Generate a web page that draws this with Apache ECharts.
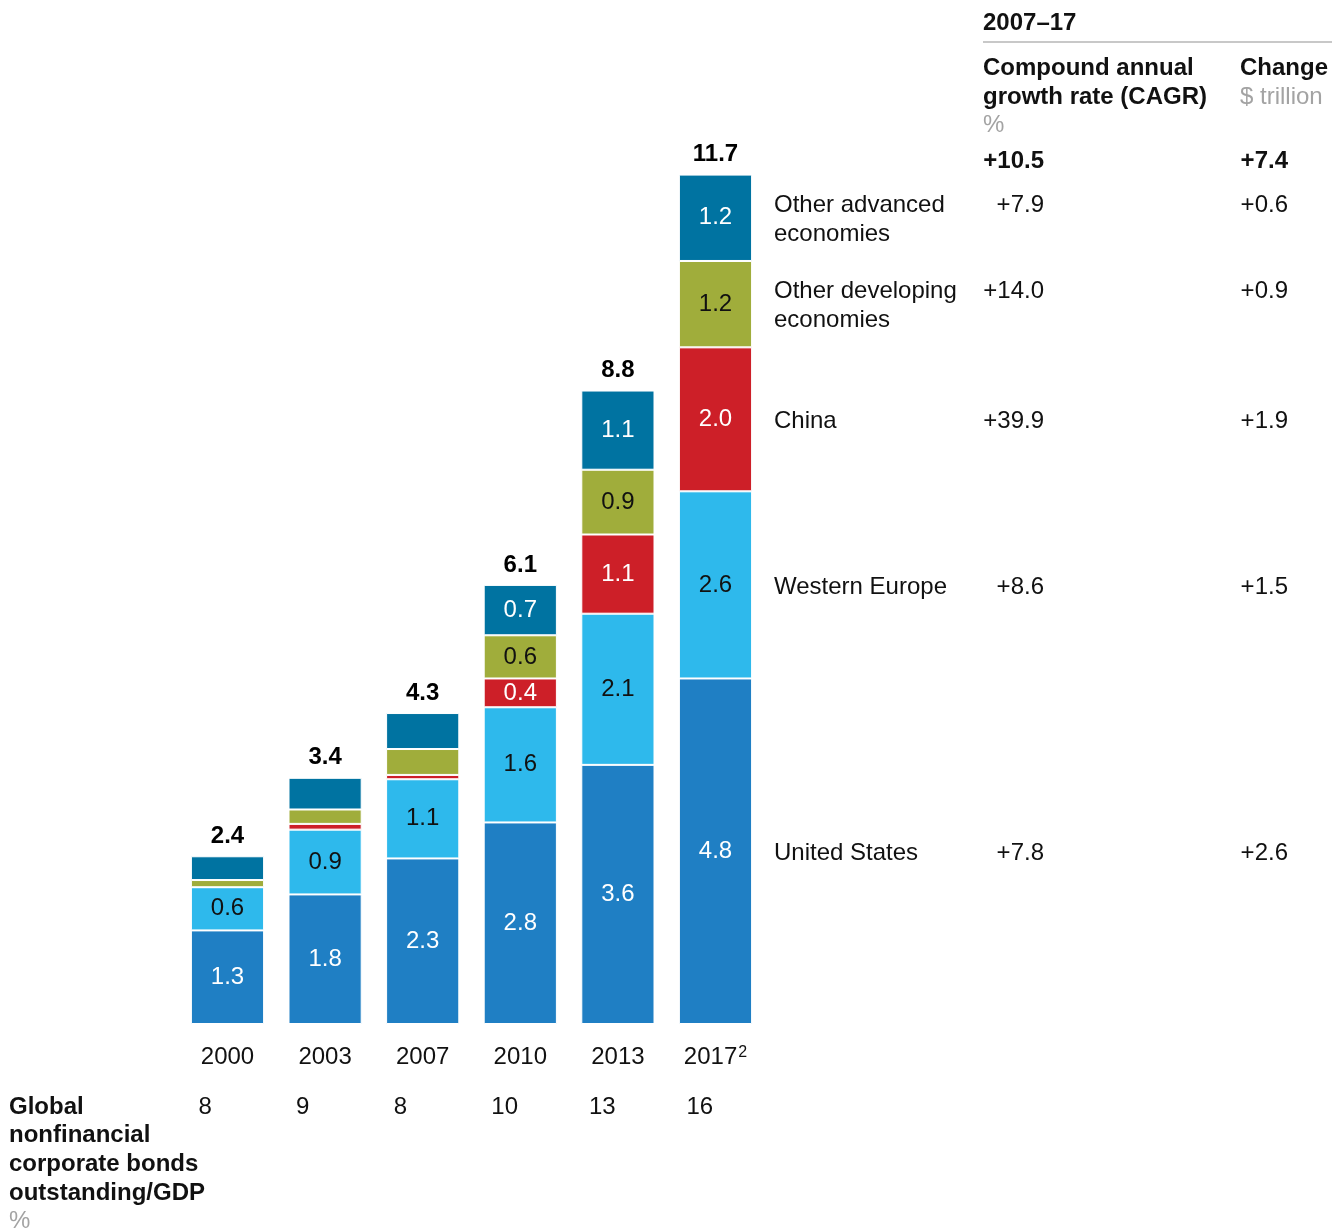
<!DOCTYPE html>
<html>
<head>
<meta charset="utf-8">
<script src="https://cdn.jsdelivr.net/npm/echarts@6/dist/echarts.min.js"></script>
<style>
  html, body { margin: 0; padding: 0; background: #ffffff; }
  #chart { width: 1332px; height: 1230px; }
</style>
</head>
<body>
<div id="chart"></div>
<script>
// Nonfinancial corporate bonds outstanding by region, $ trillion
const years = ['2000', '2003', '2007', '2010', '2013', '2017'];
const yearNotes = ['', '', '', '', '', '2'];

const unitedStates    = [1.3, 1.8, 2.3, 2.8, 3.6, 4.8];
const westernEurope   = [0.6, 0.9, 1.1, 1.6, 2.1, 2.6];
const china           = [0.0, 0.08, 0.06, 0.4, 1.1, 2.0];
const otherDeveloping = [0.1, 0.2, 0.36, 0.6, 0.9, 1.2];
const otherAdvanced   = [0.33, 0.44, 0.5, 0.7, 1.1, 1.2];

// which segments carry a value label (1 = shown)
const usShown  = [1, 1, 1, 1, 1, 1];
const weShown  = [1, 1, 1, 1, 1, 1];
const cnShown  = [0, 0, 0, 1, 1, 1];
const odShown  = [0, 0, 0, 1, 1, 1];
const oaShown  = [0, 0, 0, 1, 1, 1];

const totals = ['2.4', '3.4', '4.3', '6.1', '8.8', '11.7'];
const bondsToGdp = ['8', '9', '8', '10', '13', '16'];

// 2007–17 table
const regionNames  = ['United States', 'Western Europe', 'China', 'Other developing\neconomies', 'Other advanced\neconomies'];
const regionCagr   = ['+7.8', '+8.6', '+39.9', '+14.0', '+7.9'];
const regionChange = ['+2.6', '+1.5', '+1.9', '+0.9', '+0.6'];
const totalCagr = '+10.5';
const totalChange = '+7.4';

const FONT = 'Liberation Sans';
const FS = 24;
const INK = '#111111';
const GREY = '#a3a3a3';

const regions = [
  { key: 'United States',   data: unitedStates,    shown: usShown, color: '#1f7fc4', text: '#ffffff' },
  { key: 'Western Europe',  data: westernEurope,   shown: weShown, color: '#2eb9ec', text: '#111111' },
  { key: 'China',           data: china,           shown: cnShown, color: '#cd1f28', text: '#ffffff' },
  { key: 'Other developing',data: otherDeveloping, shown: odShown, color: '#a0ad3b', text: '#111111' },
  { key: 'Other advanced',  data: otherAdvanced,   shown: oaShown, color: '#0073a1', text: '#ffffff' }
];

const stackTops = years.map((_, i) => regions.reduce((s, r) => s + r.data[i], 0));

const chart = echarts.init(document.getElementById('chart'), null, { renderer: 'canvas' });

const barSeries = regions.map(r => ({
  name: r.key,
  type: 'bar',
  stack: 'bonds',
  xAxisIndex: 0,
  yAxisIndex: 0,
  barCategoryGap: '25%',
  itemStyle: { color: r.color, borderColor: '#ffffff', borderWidth: 1 },
  label: {
    show: true,
    position: 'inside',
    fontFamily: FONT,
    fontSize: FS,
    color: r.text,
    formatter: p => (r.shown[p.dataIndex] ? r.data[p.dataIndex].toFixed(1) : '')
  },
  emphasis: { disabled: true },
  data: r.data
}));

const option = {
  animation: false,
  backgroundColor: '#ffffff',
  textStyle: { fontFamily: FONT },
  grid: { left: 178.7, right: 567.7, top: 153, bottom: 206, containLabel: false },
  xAxis: [
    {
      type: 'category',
      data: years,
      position: 'bottom',
      axisLine: { show: false },
      axisTick: { show: false },
      axisLabel: {
        interval: 0,
        margin: 20,
        fontFamily: FONT,
        fontSize: FS,
        color: INK,
        formatter: (v, i) => yearNotes[i] ? '{y|' + v + '}{s|' + yearNotes[i] + '}' : '{y|' + v + '}',
        rich: {
          y: { fontFamily: FONT, fontSize: FS, color: INK, lineHeight: 26 },
          s: { fontFamily: FONT, fontSize: 16, color: INK, lineHeight: 26, padding: [0, 0, 8, 1] }
        }
      }
    },
    {
      type: 'category',
      data: bondsToGdp,
      position: 'bottom',
      offset: 50,
      axisLine: { show: false },
      axisTick: { show: false },
      axisLabel: {
        interval: 0,
        margin: 21,
        formatter: v => '{v|' + v + '}',
        rich: { v: { width: 58, align: 'left', fontFamily: FONT, fontSize: FS, color: INK } }
      }
    }
  ],
  yAxis: { type: 'value', min: 0, max: 12.1, show: false },
  series: [
    ...barSeries,
    {
      name: 'total',
      type: 'scatter',
      xAxisIndex: 0,
      yAxisIndex: 0,
      symbolSize: 0,
      silent: true,
      itemStyle: { opacity: 1, color: 'rgba(0,0,0,0)' },
      label: {
        show: true,
        position: 'top',
        distance: 8,
        fontFamily: FONT,
        fontSize: FS,
        fontWeight: 'bold',
        color: '#000000',
        formatter: p => totals[p.dataIndex]
      },
      data: stackTops
    }
  ]
};

chart.setOption(option);

// Table and side labels, placed from the chart's own coordinate system
function txt(text, x, y, opts) {
  return {
    type: 'text',
    silent: true,
    style: Object.assign({
      text: text, x: x, y: y,
      fontFamily: FONT, fontSize: FS, fill: INK,
      align: 'left', verticalAlign: 'middle'
    }, opts || {})
  };
}

const graphics = [];
const last = years.length - 1;
const barRight = chart.convertToPixel({ xAxisIndex: 0, yAxisIndex: 0 }, [last, 0])[0] + 36.5;
const nameX = barRight + 22;
const cagrRight = 1044;
const changeRight = 1288;
const lineH = 29;

let cum = 0;
regions.forEach((r, i) => {
  const v = r.data[last];
  const mid = cum + v / 2;
  cum += v;
  const yMid = chart.convertToPixel({ xAxisIndex: 0, yAxisIndex: 0 }, [last, mid])[1] + 2;
  const nLines = regionNames[i].split('\n').length;
  const firstY = yMid - (nLines - 1) * lineH / 2;
  graphics.push(txt(regionNames[i], nameX, yMid, { lineHeight: lineH }));
  graphics.push(txt(regionCagr[i], cagrRight, firstY, { align: 'right' }));
  graphics.push(txt(regionChange[i], changeRight, firstY, { align: 'right' }));
});

// column headers
graphics.push(txt('2007–17', 983, 23, { fontWeight: 'bold' }));
graphics.push({
  type: 'line', silent: true,
  shape: { x1: 983, y1: 42, x2: 1332, y2: 42 },
  style: { stroke: '#c8c8c8', lineWidth: 2 }
});
graphics.push(txt('Compound annual', 983, 68, { fontWeight: 'bold' }));
graphics.push(txt('growth rate (CAGR)', 983, 97, { fontWeight: 'bold' }));
graphics.push(txt('%', 983, 125, { fill: GREY }));
graphics.push(txt('Change', 1240, 68, { fontWeight: 'bold' }));
graphics.push(txt('$ trillion', 1240, 97, { fill: GREY }));
graphics.push(txt(totalCagr, cagrRight, 161, { fontWeight: 'bold', align: 'right' }));
graphics.push(txt(totalChange, changeRight, 161, { fontWeight: 'bold', align: 'right' }));

// bottom row title
['Global', 'nonfinancial', 'corporate bonds', 'outstanding/GDP'].forEach((t, i) => {
  graphics.push(txt(t, 9, 1107 + i * 28.7, { fontWeight: 'bold' }));
});
graphics.push(txt('%', 9, 1221, { fill: GREY }));

chart.setOption({ graphic: graphics });
</script>
</body>
</html>
